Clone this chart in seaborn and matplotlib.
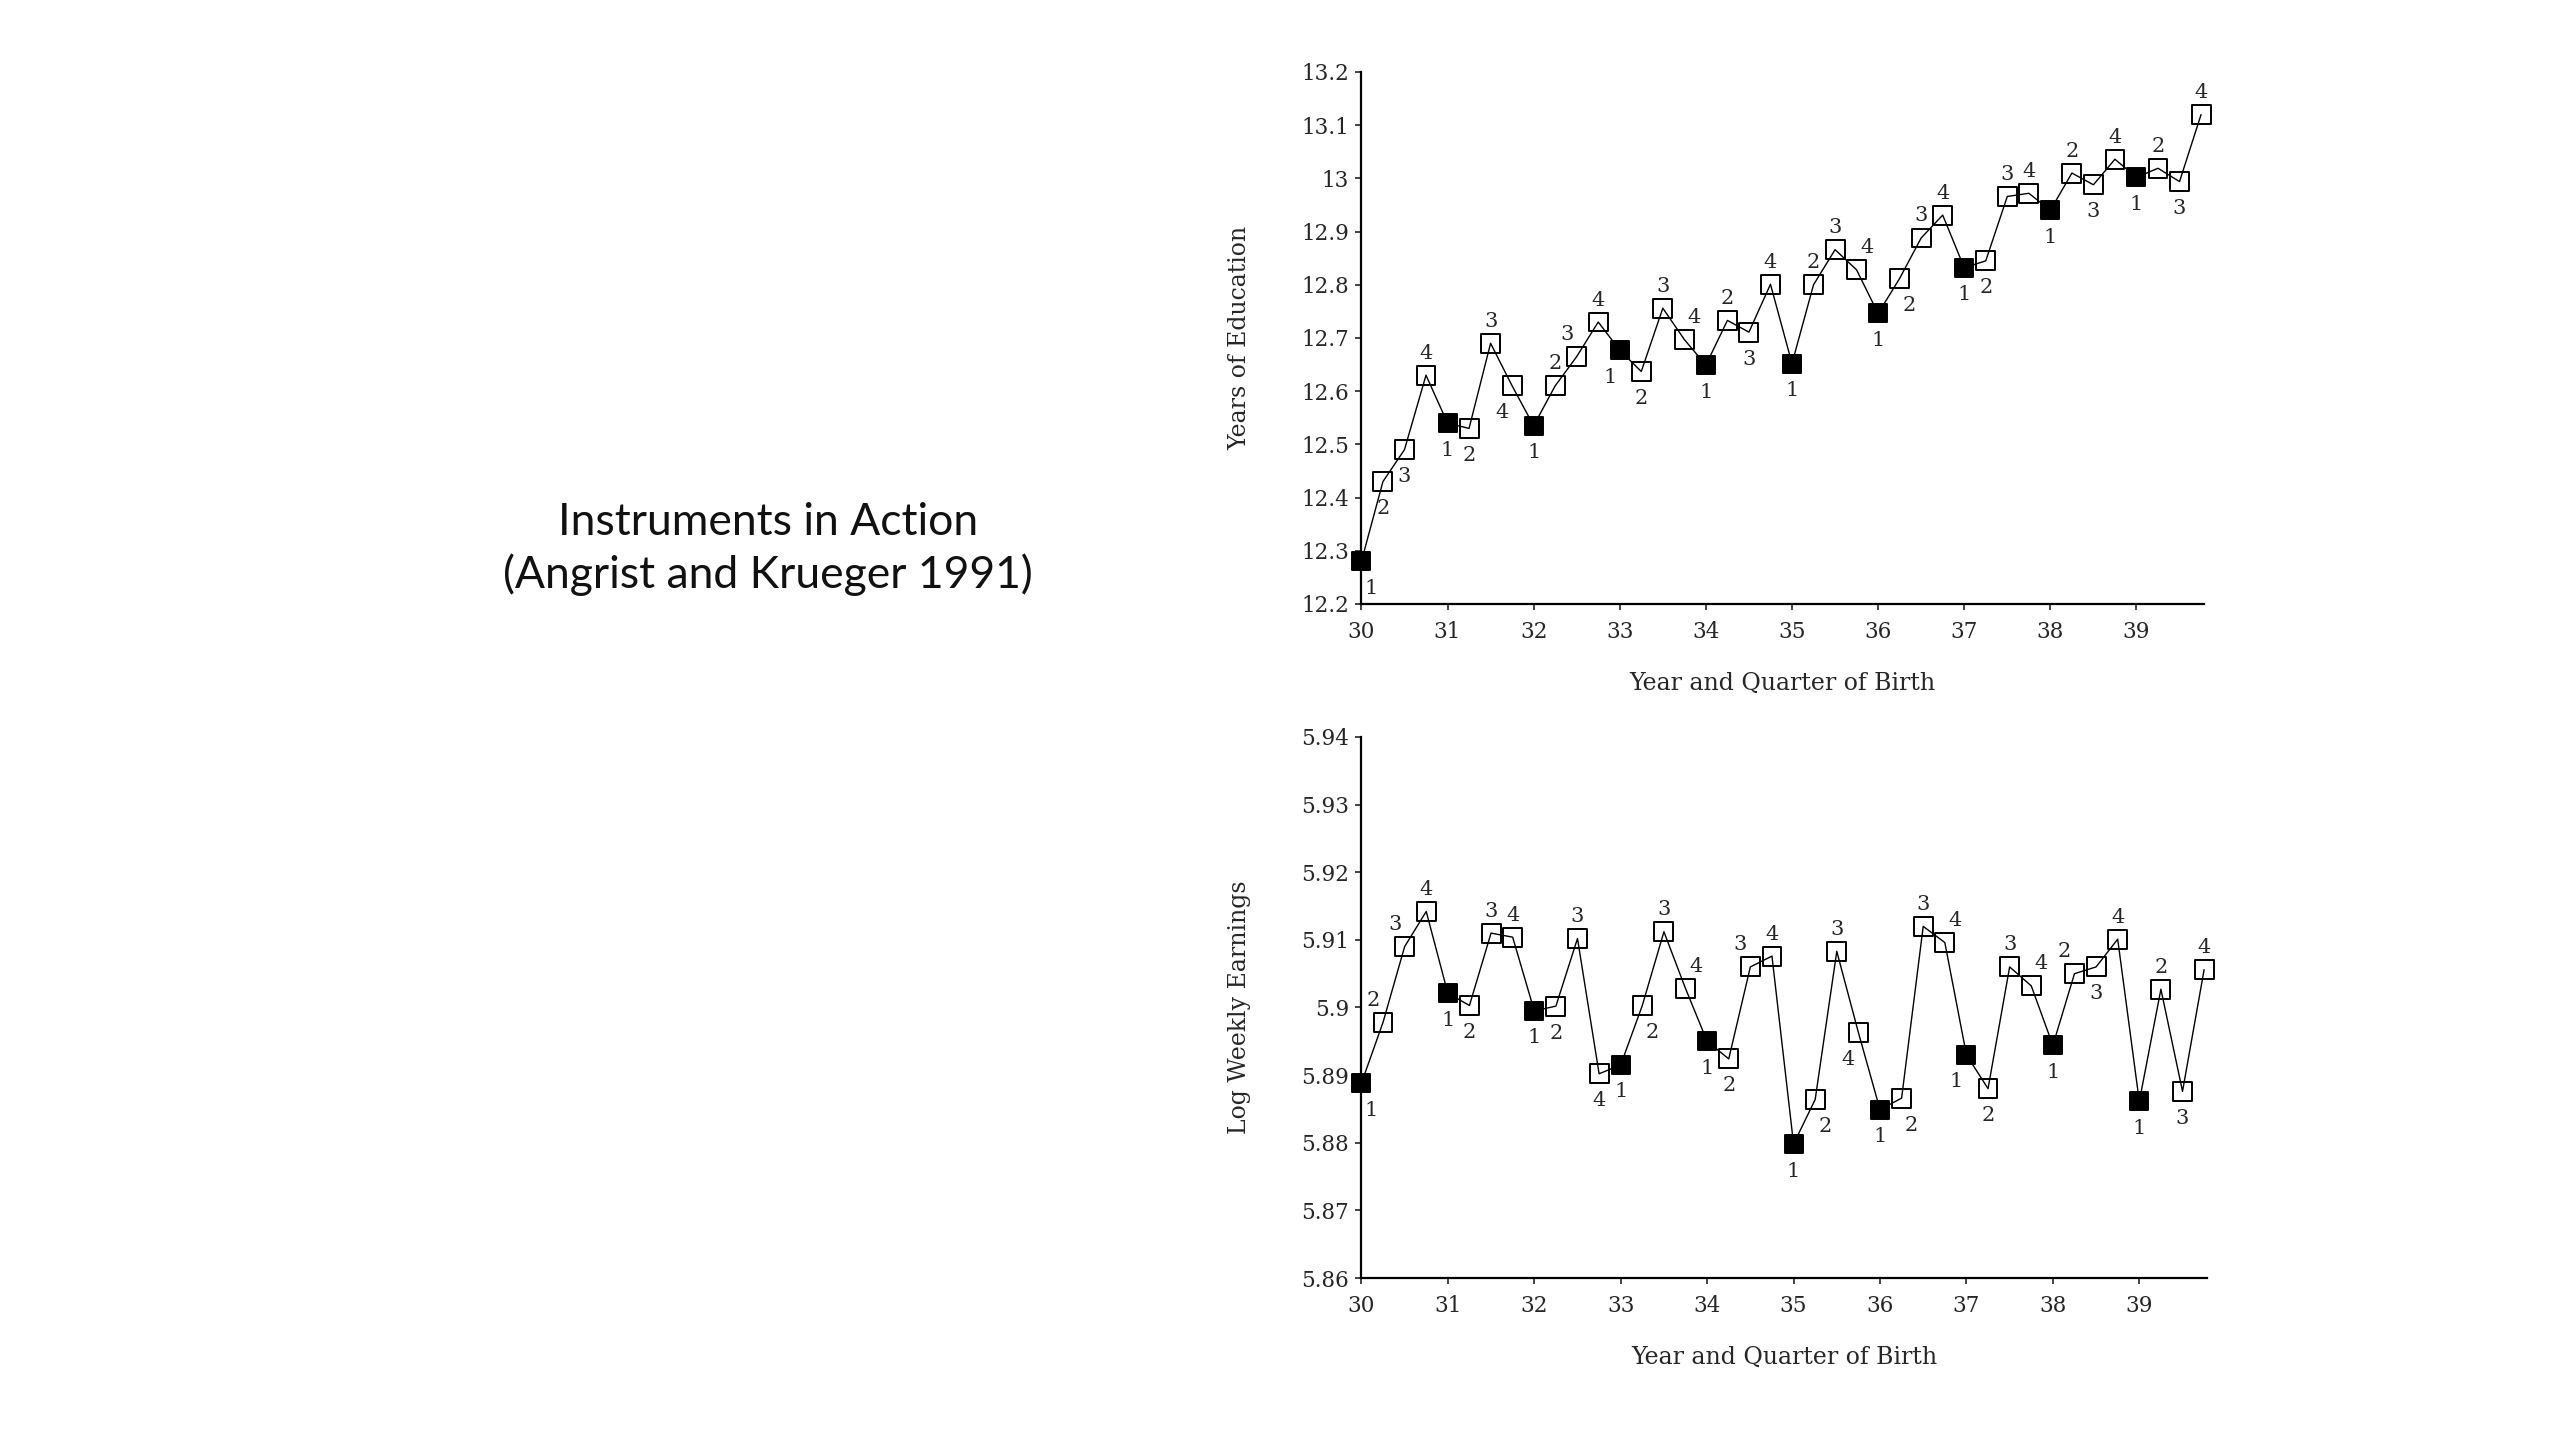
import numpy as np
import pandas as pd
import matplotlib
matplotlib.use("Agg")
import matplotlib.pyplot as plt
import seaborn as sns

# ---- data (Angrist & Krueger 1991, men born 1930-39) ----
YEARS = list(range(30, 40))
QUARTERS = [1, 2, 3, 4]

EDUC = [12.28, 12.43, 12.49, 12.63,
        12.54, 12.53, 12.69, 12.61,
        12.535, 12.61, 12.665, 12.73,
        12.677, 12.637, 12.756, 12.697,
        12.649, 12.733, 12.711, 12.801,
        12.652, 12.80, 12.866, 12.828,
        12.746, 12.812, 12.888, 12.931,
        12.832, 12.845, 12.966, 12.972,
        12.940, 13.010, 12.988, 13.036,
        13.002, 13.019, 12.994, 13.120]

EARN = [5.8888, 5.8978, 5.9090, 5.9142,
        5.9021, 5.9003, 5.9110, 5.9104,
        5.8995, 5.9002, 5.9102, 5.8902,
        5.8915, 5.9003, 5.9112, 5.9028,
        5.8950, 5.8924, 5.9060, 5.9076,
        5.8798, 5.8864, 5.9083, 5.8963,
        5.8849, 5.8866, 5.9120, 5.9096,
        5.8930, 5.8880, 5.9060, 5.9032,
        5.8944, 5.9050, 5.9060, 5.9101,
        5.8861, 5.9027, 5.8876, 5.9056]

# where each quarter number sits relative to its marker (a=above, b=below, l/r nudge)
EDUC_LABEL_POS = ["br", "b", "b", "a", "b", "b", "a", "bl", "b", "a", "al", "a",
                  "bl", "b", "a", "ar", "b", "a", "b", "a", "b", "a", "a", "ar",
                  "b", "br", "a", "a", "b", "b", "a", "a", "b", "a", "b", "a",
                  "b", "a", "b", "a"]
EARN_LABEL_POS = ["br", "al", "al", "a", "b", "b", "a", "a", "b", "b", "a", "b",
                  "b", "br", "a", "ar", "b", "b", "al", "a", "b", "br", "a", "bl",
                  "b", "br", "a", "ar", "bl", "b", "a", "ar", "b", "al", "b", "a",
                  "b", "a", "b", "a"]

SERIF = ["DejaVu Serif"]


def make_frame(values):
    x = [y + (q - 1) / 4 for y in YEARS for q in QUARTERS]
    qs = [q for _ in YEARS for q in QUARTERS]
    return pd.DataFrame({"x": x, "y": values, "q": qs})


def draw(ax, df, label_pos, ylim, yticks, yticklabels, ylabel):
    sns.lineplot(data=df, x="x", y="y", color="black", lw=1.0, ax=ax,
                 clip_on=False, zorder=2)
    q1 = df[df["q"] == 1]
    rest = df[df["q"] != 1]
    sns.scatterplot(data=rest, x="x", y="y", marker="s", s=185,
                    facecolors="none", edgecolor="black", linewidth=1.4,
                    ax=ax, clip_on=False, zorder=3)
    sns.scatterplot(data=q1, x="x", y="y", marker="s", s=185, color="black",
                    edgecolor="black", linewidth=1.4, ax=ax, clip_on=False, zorder=3)

    shift = {"a": (0, 22), "b": (0, -27), "al": (-10, 22), "ar": (10, 22),
             "bl": (-10, -27), "br": (10, -27)}
    for (xv, yv, q), pos in zip(df[["x", "y", "q"]].itertuples(index=False), label_pos):
        ax.annotate(str(q), (xv, yv), xytext=shift[pos], textcoords="offset pixels",
                    ha="center", va="center", fontsize=15, family=SERIF)

    ax.set_xlim(30, 39.78)
    ax.set_ylim(*ylim)
    ax.set_xticks(YEARS)
    ax.set_xticklabels([str(y) for y in YEARS], family=SERIF)
    ax.set_yticks(yticks)
    ax.set_yticklabels(yticklabels, family=SERIF)
    ax.tick_params(direction="out", length=4, width=1.2, labelsize=15.5, pad=5)
    ax.tick_params(axis="x", pad=8)
    ax.set_xlabel("Year and Quarter of Birth", fontsize=17, family=SERIF, labelpad=21)
    ax.set_ylabel(ylabel, fontsize=17, family=SERIF, labelpad=36)
    for s in ("left", "bottom"):
        ax.spines[s].set_linewidth(1.6)
        ax.spines[s].set_color("black")
    sns.despine(ax=ax)


def main():
    sns.set_theme(style="ticks")
    plt.rcParams["font.family"] = ["Lato", "DejaVu Sans"]
    fig = plt.figure(figsize=(25.6, 14.4), dpi=100)
    fig.patch.set_facecolor("white")

    ax1 = fig.add_axes([0.5318, 0.5806, 0.3290, 0.3694])
    educ_ticks = [12.2, 12.3, 12.4, 12.5, 12.6, 12.7, 12.8, 12.9, 13.0, 13.1, 13.2]
    draw(ax1, make_frame(EDUC), EDUC_LABEL_POS, (12.2, 13.2), educ_ticks,
         [f"{t:g}" for t in educ_ticks], "Years of Education")

    ax2 = fig.add_axes([0.5318, 0.1125, 0.3302, 0.3757])
    earn_ticks = [5.86, 5.87, 5.88, 5.89, 5.90, 5.91, 5.92, 5.93, 5.94]
    draw(ax2, make_frame(EARN), EARN_LABEL_POS, (5.86, 5.94), earn_ticks,
         [f"{t:g}" for t in earn_ticks], "Log Weekly Earnings")

    fig.text(0.300, 0.619, "Instruments in Action\n(Angrist and Krueger 1991)",
             ha="center", va="center", fontsize=32, linespacing=1.3,
             family=["Lato", "DejaVu Sans"], color="#111111")

    fig.savefig("out.png", dpi=100, facecolor="white")


if __name__ == "__main__":
    main()
